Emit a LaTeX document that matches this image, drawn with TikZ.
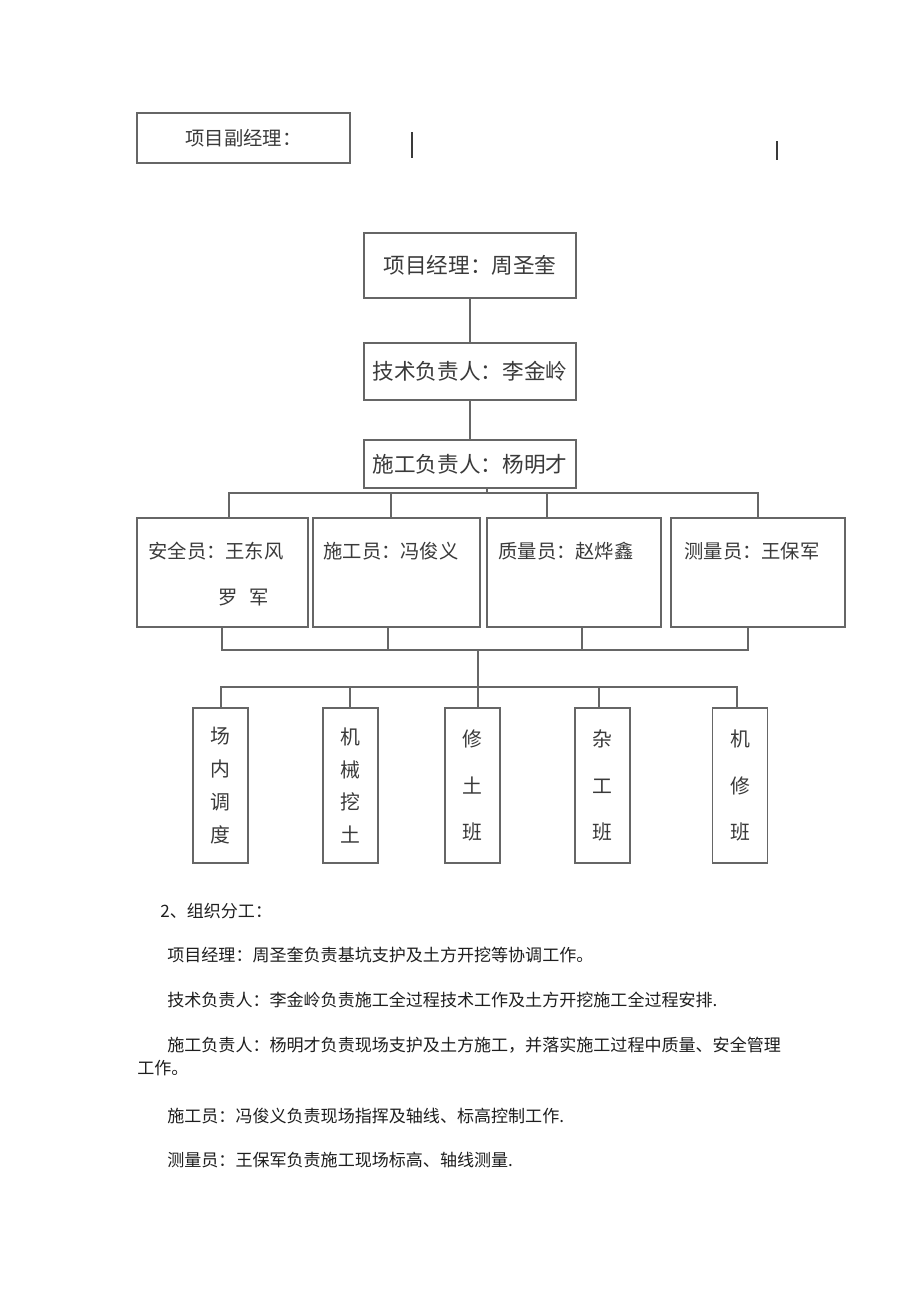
\documentclass[tikz,border=0pt]{standalone}
\usepackage{fontspec}
\setmainfont{Noto Sans CJK SC}
\definecolor{boxgray}{HTML}{666666}
\definecolor{txtgray}{HTML}{3A3A3A}
\definecolor{bodytxt}{HTML}{1E1E1E}
\tikzset{
  box/.style={draw=boxgray,line width=1.1pt,inner sep=0pt,text=txtgray},
  big/.style={font=\fontsize{12.3}{14}\selectfont},
  mid/.style={text=txtgray,inner sep=0pt,anchor=west,font=\fontsize{11}{13}\selectfont},
  col/.style={box,minimum width=1.1cm,minimum height=3.1cm,align=center},
  lnk/.style={draw=boxgray,line width=1.1pt},
  bar/.style={draw=txtgray,line width=1.2pt},
  par/.style={anchor=west,inner sep=0pt,text=bodytxt,font=\fontsize{9.7}{12}\selectfont},
}
\begin{document}
\begin{tikzpicture}[x=0.02cm,y=-0.02cm]
\fill[white] (0,0) rectangle (920,1301);
\useasboundingbox (0,0) rectangle (920,1301);
% top line
\node[box,big,minimum width=4.26cm,minimum height=1cm,font=\fontsize{11}{13}\selectfont] (vice) at (243.5,138){项目副经理：};
\draw[bar] (412,132) -- (412,158); \draw[bar] (777,141) -- (777,160);
% chain of managers
\node[box,big,minimum width=4.24cm,minimum height=1.3cm] (pm) at (470,265.5){项目经理：周圣奎};
\node[box,big,minimum width=4.24cm,minimum height=1.14cm] (tech) at (470,371.5){技术负责人：李金岭};
\node[box,big,minimum width=4.24cm,minimum height=0.96cm] (cons) at (470,464){施工负责人：杨明才};
% staff row
\node[box,minimum width=3.42cm,minimum height=2.18cm] (aq) at (222.5,572.5){};
\node[box,minimum width=3.34cm,minimum height=2.18cm] (sg) at (396.5,572.5){};
\node[box,minimum width=3.48cm,minimum height=2.18cm] (zl) at (574,572.5){};
\node[box,minimum width=3.48cm,minimum height=2.18cm] (cl) at (758,572.5){};
\node[mid] (aqt) at (148,551){安全员：王东风};
\node[mid] (aqt2) at (218,598){罗\hspace{0.6em}军};
\node[mid] (sgt) at (323,551){施工员：冯俊义};
\node[mid] (zlt) at (498,551){质量员：赵烨鑫};
\node[mid] (clt) at (684,551){测量员：王保军};
% crews
\node[col,font=\fontsize{11.3}{18.7}\selectfont] (b1) at (220.5,785.5){场\\内\\调\\度};
\node[col,font=\fontsize{11.3}{18.7}\selectfont] (b2) at (350.5,785.5){机\\械\\挖\\土};
\node[col,font=\fontsize{11.3}{26.5}\selectfont] (b3) at (472.5,785.5){修\\土\\班};
\node[col,font=\fontsize{11.3}{26.5}\selectfont] (b4) at (602.5,785.5){杂\\工\\班};
\node[col,font=\fontsize{11.3}{26.5}\selectfont] (b5) at (740,785.5){机\\修\\班};
% connectors
\draw[lnk] (pm) -- (tech); \draw[lnk] (tech) -- (cons);
\coordinate (t0) at (487,493); \coordinate (t1) at (229,493); \coordinate (t2) at (391,493);
\coordinate (t3) at (547,493); \coordinate (t4) at (758,493);
\draw[lnk] (cons.south -| t0) -- (t0);
\draw[lnk] (aq.north -| t1) -- (t1) -- (t4) -- (cl.north -| t4);
\draw[lnk] (t2) -- (sg.north -| t2); \draw[lnk] (t3) -- (zl.north -| t3);
\coordinate (u0) at (478,650); \coordinate (u1) at (222,650); \coordinate (u2) at (388,650);
\coordinate (u3) at (582,650); \coordinate (u4) at (748,650);
\draw[lnk] (aq.south -| u1) -- (u1) -- (u4) -- (cl.south -| u4);
\draw[lnk] (sg.south -| u2) -- (u2); \draw[lnk] (zl.south -| u3) -- (u3);
\coordinate (v0) at (478,687); \coordinate (v1) at (221,687); \coordinate (v2) at (350,687);
\coordinate (v4) at (599,687); \coordinate (v5) at (737,687);
\draw[lnk] (u0) -- (v0);
\draw[lnk] (b1.north -| v1) -- (v1) -- (v5) -- (b5.north -| v5);
\draw[lnk] (v2) -- (b2.north -| v2); \draw[lnk] (v0) -- (b3.north -| v0); \draw[lnk] (v4) -- (b4.north -| v4);
% text below
\node[par] (p0) at (160,911){2、组织分工：};
\node[par] (p1) at (167,955){项目经理：周圣奎负责基坑支护及土方开挖等协调工作。};
\node[par] (p2) at (167,1000){技术负责人：李金岭负责施工全过程技术工作及土方开挖施工全过程安排.};
\node[par] (p3) at (167,1045){施工负责人：杨明才负责现场支护及土方施工，并落实施工过程中质量、安全管理};
\node[par] (p3b) at (137,1068){工作。};
\node[par] (p4) at (167,1116){施工员：冯俊义负责现场指挥及轴线、标高控制工作.};
\node[par] (p5) at (167,1160){测量员：王保军负责施工现场标高、轴线测量.};
\end{tikzpicture}
\end{document}
